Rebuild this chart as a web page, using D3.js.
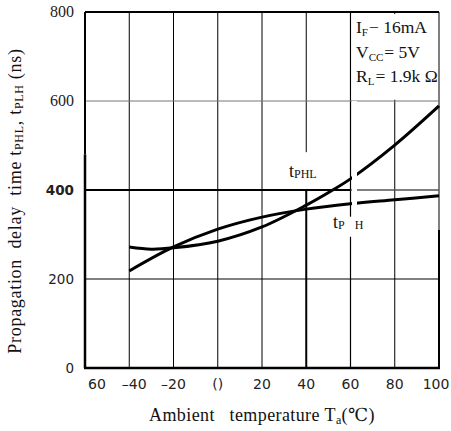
<!DOCTYPE html>
<html>
<head>
<meta charset="utf-8">
<script src="https://cdn.jsdelivr.net/npm/d3@7"></script>
<style>
  body { margin: 0; background: #fff; }
  svg { display: block; }
  .serif { font-family: "Liberation Serif", "DejaVu Serif", serif; }
  .sans { font-family: "DejaVu Sans", "Liberation Sans", sans-serif; }
  .pre { white-space: pre; }
</style>
</head>
<body>
<script>
'use strict';

// x axis: ambient temperature (°C)
let xTicks = [-60, -40, -20, 0, 20, 40, 60, 80, 100];
let xTickLabels = ["60", "\u201340", "\u201320", "()", "20", "40", "60", "80", "100"];
// y axis: propagation delay (ns)
let yTicks = [0, 200, 400, 600, 800];

// curves
let phlTemp = [-40, -30, -20, 0, 20, 40, 52, 60, 80, 100];
let phlVal = [272, 267, 270, 285, 317, 366, 400, 425, 501, 589];
let plhTemp = [-40, -20, 0, 20, 40, 60, 80, 100];
let plhVal = [218, 272, 312, 339, 357, 369, 378, 387];

let condSymbols = ["I", "V", "R"];
let condSubs = ["F", "CC", "L"];
let condValues = ["\u2212 16mA", "= 5V", "= 1.9k \u03a9"];

(function() {
  let svg = d3.select('body').append('svg')
    .attr('width', 451)
    .attr('height', 431);

  let x = d3.scaleLinear().domain([-60, 100]).range([85, 439]);
  let y = d3.scaleLinear().domain([0, 800]).range([368, 12]);

  // vertical grid segments [temp, from, to, width]
  let vSeg = [
    [-40, 0, 800, 1], [-20, 0, 800, 1], [0, 0, 800, 1], [20, 0, 800, 1],
    [40, 485, 800, 1], [40, 0, 400, 2],
    [60, 340, 800, 1.2], [60, 0, 295, 1.2],
    [80, 0, 800, 1],
    [100, 310, 800, 1], [100, 0, 310, 2]
  ];
  svg.append('g').selectAll('line')
    .data(vSeg)
    .enter().append('line')
      .attr('x1', (d) => x(d[0])).attr('x2', (d) => x(d[0]))
      .attr('y1', (d) => y(d[1])).attr('y2', (d) => y(d[2]))
      .attr('stroke', '#000')
      .attr('stroke-width', (d) => d[3]);

  // horizontal grid lines
  svg.append('g').selectAll('line')
    .data(yTicks.slice(1, 4))
    .enter().append('line')
      .attr('x1', x(-60)).attr('x2', (d) => d == 400 ? x(60) : x(100))
      .attr('y1', (d) => y(d)).attr('y2', (d) => y(d))
      .attr('stroke', (d) => d == 600 ? '#777' : '#000')
      .attr('stroke-width', (d) => d == 400 ? 2 : 1);
  svg.append('line')
    .attr('x1', x(60)).attr('x2', x(100))
    .attr('y1', y(400)).attr('y2', y(400))
    .attr('stroke', '#555').attr('stroke-width', 1.3);

  // frame: thin left edge on top, heavy below
  svg.append('path')
    .attr('d', 'M' + x(-60) + ',' + y(800) + 'V' + y(480))
    .attr('stroke', '#000').attr('stroke-width', 2).attr('fill', 'none');
  svg.append('line')
    .attr('x1', x(-60)).attr('x2', x(100))
    .attr('y1', y(800)).attr('y2', y(800))
    .attr('stroke', '#000').attr('stroke-width', 1.8);
  svg.append('line')
    .attr('x1', x(-60)).attr('x2', x(-60))
    .attr('y1', y(480)).attr('y2', y(0))
    .attr('stroke', '#000').attr('stroke-width', 2.5);
  svg.append('line')
    .attr('x1', x(-60) - 1).attr('x2', x(100) + 1)
    .attr('y1', y(0)).attr('y2', y(0))
    .attr('stroke', '#000').attr('stroke-width', 2.5);

  // curves
  let line = d3.line()
    .x((d) => x(d[0]))
    .y((d) => y(d[1]))
    .curve(d3.curveCatmullRom);

  let series = [d3.zip(phlTemp, phlVal), d3.zip(plhTemp, plhVal)];
  svg.append('g').selectAll('path')
    .data(series)
    .enter().append('path')
      .attr('d', line)
      .attr('fill', 'none')
      .attr('stroke', '#000')
      .attr('stroke-width', 3);

  // white strip (scan gap) just right of 60°C
  svg.append('rect')
    .attr('x', x(60) + 1.5).attr('width', 5)
    .attr('y', y(600)).attr('height', y(300) - y(600))
    .attr('fill', '#fff');

  // conditions box
  svg.append('rect')
    .attr('x', x(60) + 1).attr('y', y(800) + 2)
    .attr('width', x(100) - x(60) - 2).attr('height', y(603) - y(800) - 2)
    .attr('fill', '#fff');

  let cond = svg.append('g').attr('class', 'serif').attr('font-size', 17.5);
  condSymbols.forEach((s, i) => {
    let t = cond.append('text')
      .attr('x', 356)
      .attr('y', 33 + i * 24.5)
      .attr('fill', '#111');
    t.append('tspan').text(s);
    t.append('tspan').attr('font-size', 11).attr('dy', 3).text(condSubs[i]);
    t.append('tspan').attr('dy', -3).attr('dx', 1).text(condValues[i]);
  });

  // curve labels
  let lab1 = svg.append('text').attr('class', 'serif')
    .attr('x', 289).attr('y', 177).attr('font-size', 18).attr('fill', '#111');
  lab1.append('tspan').text('t');
  lab1.append('tspan').attr('font-size', 12).attr('dy', 1).text('PHL');

  let lab2 = svg.append('text').attr('class', 'serif')
    .attr('x', 333).attr('y', 228).attr('font-size', 18).attr('fill', '#111');
  lab2.append('tspan').text('t');
  lab2.append('tspan').attr('font-size', 12).attr('dy', 1).text('P');
  lab2.append('tspan').attr('font-size', 12).attr('dx', 10).text('H');

  // x tick labels
  svg.append('g').selectAll('text')
    .data(xTicks)
    .enter().append('text')
      .attr('class', 'sans')
      .attr('x', (d, i) => i == 0 ? x(d) + 12 : (i == 1 ? x(d) + 5 : (i == 8 ? x(d) - 3 : x(d))))
      .attr('y', 389)
      .attr('text-anchor', 'middle')
      .attr('font-size', 14)
      .attr('fill', '#222')
      .text((d, i) => xTickLabels[i]);

  // y tick labels
  svg.append('g').selectAll('text')
    .data(yTicks)
    .enter().append('text')
      .attr('class', (d) => d >= 600 ? 'serif' : 'sans')
      .attr('x', 74)
      .attr('y', (d) => y(d) + 5)
      .attr('text-anchor', 'end')
      .attr('font-size', (d) => d >= 600 ? 16 : 13.5)
      .attr('font-weight', (d) => d == 400 ? 'bold' : 'normal')
      .attr('fill', '#222')
      .text((d) => d);

  // axis titles
  let xt = svg.append('text').attr('class', 'serif pre')
    .attr('x', 262).attr('y', 421)
    .attr('text-anchor', 'middle')
    .attr('font-size', 18).attr('letter-spacing', 0.4).attr('fill', '#111');
  xt.append('tspan').text('Ambient   temperature T');
  xt.append('tspan').attr('font-size', 12).attr('dy', 3).text('a');
  xt.append('tspan').attr('dy', -3).text('(\u2103)');

  let yt = svg.append('text').attr('class', 'serif pre')
    .attr('transform', 'translate(21, 201)rotate(-90)')
    .attr('text-anchor', 'middle')
    .attr('font-size', 18).attr('letter-spacing', 0.7).attr('fill', '#111');
  yt.append('tspan').text('Propagation  delay  time t');
  yt.append('tspan').attr('font-size', 12).attr('dy', 2).text('PHL');
  yt.append('tspan').attr('dy', -2).text(', t');
  yt.append('tspan').attr('font-size', 12).attr('dy', 2).text('PLH');
  yt.append('tspan').attr('dy', -2).text(' (ns)');
})();
</script>
</body>
</html>
